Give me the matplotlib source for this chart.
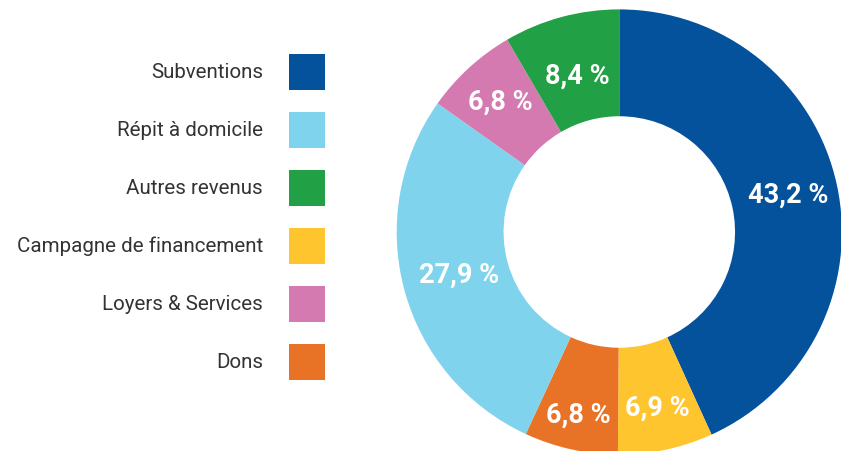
import matplotlib
matplotlib.use("Agg")
import matplotlib.pyplot as plt
from matplotlib.patches import Rectangle
import numpy as np

# Data (clockwise from top)
pie_labels = ["Subventions", "Campagne de financement", "Dons",
              "Répit à domicile", "Loyers & Services", "Autres revenus"]
pie_values = [43.2, 6.9, 6.8, 27.9, 6.8, 8.4]
pie_colors = ["#03529B", "#FEC52E", "#E87326", "#80D3EC", "#D47AB0", "#22A045"]

legend_order = ["Subventions", "Répit à domicile", "Autres revenus",
                "Campagne de financement", "Loyers & Services", "Dons"]

# label radial placement (style)
label_radius = [0.775, 0.81, 0.845, 0.745, 0.79, 0.726]

W, H = 841, 451
fig = plt.figure(figsize=(W / 100, H / 100), dpi=100)
fig.patch.set_facecolor("white")

# Donut axes
cx, cy, R = 619.3, 232.0, 222.6
ax = fig.add_axes([(cx - R) / W, (H - cy - R) / H, 2 * R / W, 2 * R / H])
inner = 0.52
wedges, _ = ax.pie(pie_values, colors=pie_colors, startangle=90, counterclock=False,
                   radius=1, wedgeprops=dict(width=1 - inner, linewidth=0))
ax.set_xlim(-1, 1)
ax.set_ylim(-1, 1)
ax.set_aspect("equal")
ax.axis("off")
for w, v, lr in zip(wedges, pie_values, label_radius):
    ang = np.deg2rad((w.theta1 + w.theta2) / 2)
    x, y = lr * np.cos(ang), lr * np.sin(ang)
    ax.text(x, y, f"{v:.1f} %".replace(".", ","), ha="center", va="center",
            color="white", fontsize=19.5, fontweight="bold", family="Roboto")

# Legend axes in pixel coords
lax = fig.add_axes([0, 0, 1, 1])
lax.set_xlim(0, W)
lax.set_ylim(H, 0)
lax.axis("off")
color_map = dict(zip(pie_labels, pie_colors))
for i, lab in enumerate(legend_order):
    yc = 72 + 58 * i
    lax.add_patch(Rectangle((289, yc - 18), 36, 36, facecolor=color_map[lab], linewidth=0))
    lax.text(263, yc, lab, ha="right", va="center", fontsize=14.8, color="#333333",
             family="Roboto")

fig.savefig("out.png", dpi=100)
